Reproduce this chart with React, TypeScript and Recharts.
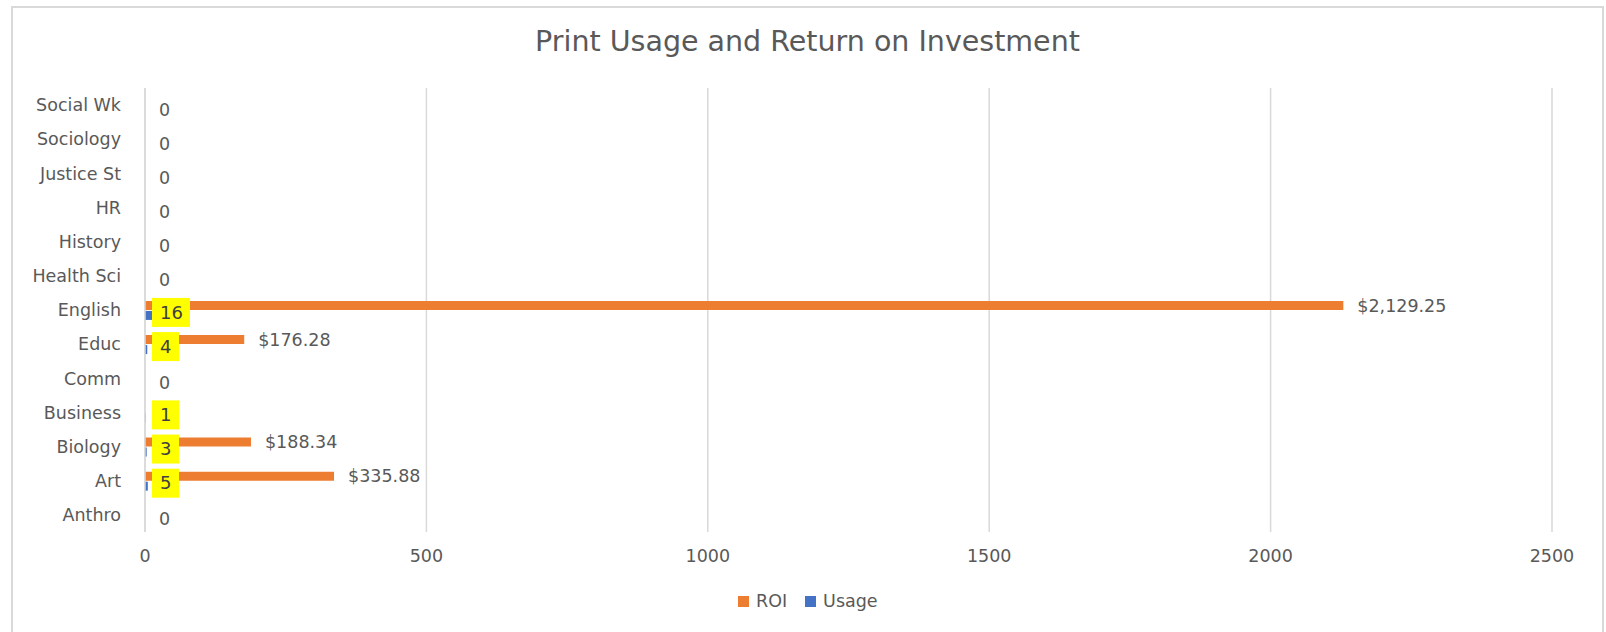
import { Bar, BarChart, CartesianGrid, LabelList, Legend, XAxis, YAxis } from "recharts";

const categories = [
  "Social Wk",
  "Sociology",
  "Justice St",
  "HR",
  "History",
  "Health Sci",
  "English",
  "Educ",
  "Comm",
  "Business",
  "Biology",
  "Art",
  "Anthro",
];
const roiValues = [0, 0, 0, 0, 0, 0, 2129.25, 176.28, 0, 0, 188.34, 335.88, 0];
const usageValues = [0, 0, 0, 0, 0, 0, 16, 4, 0, 1, 3, 5, 0];
const xTicks = [0, 500, 1000, 1500, 2000, 2500];

const data = categories.map((name, i) => ({ name, roi: roiValues[i], usage: usageValues[i] }));

const FONT = "'DejaVu Sans', sans-serif";
const TEXT = "#595959";
const ORANGE = "#ED7D31";
const BLUE = "#4472C4";

const money = (v: number) =>
  "$" + v.toLocaleString("en-US", { minimumFractionDigits: 2, maximumFractionDigits: 2 });

function RoiLabel(props: any) {
  const { x, y, width, height, value } = props;
  if (!value) return null;
  return (
    <text x={x + width + 14} y={y + height / 2} dy="0.35em" fontSize={17.5} fill={TEXT} fontFamily={FONT}>
      {money(value)}
    </text>
  );
}

function UsageLabel(props: any) {
  const { x, y, height, value } = props;
  const cy = y + height / 2 - 3;
  const str = String(value);
  if (!value) {
    return (
      <text x={x + 14} y={cy + 2} dy="0.35em" fontSize={17.5} fill={TEXT} fontFamily={FONT}>
        {str}
      </text>
    );
  }
  const w = str.length * 11 + 16;
  return (
    <g>
      <rect x={x + 7} y={cy - 14.5} width={w} height={29} fill="#FFFF00" />
      <text x={x + 15} y={cy} dy="0.35em" fontSize={18} fill="#404040" fontFamily={FONT}>
        {str}
      </text>
    </g>
  );
}

function UsageShape(props: any) {
  const { x, y, width, height, fill, value } = props;
  const v = Array.isArray(value) ? value[1] - value[0] : value;
  if (!v) return null;
  return <rect x={x} y={y} width={width} height={height} fill={fill} />;
}

function LegendContent() {
  const item = (color: string, label: string) => (
    <span style={{ display: "inline-flex", alignItems: "center", marginRight: 18 }}>
      <span style={{ width: 11, height: 11, background: color, display: "inline-block", marginRight: 7 }} />
      <span>{label}</span>
    </span>
  );
  return (
    <div style={{ paddingLeft: 738, fontFamily: FONT, fontSize: 17.5, color: TEXT, height: 26, display: "flex", alignItems: "center" }}>
      {item(ORANGE, "ROI")}
      {item(BLUE, "Usage")}
    </div>
  );
}

export default function App() {
  return (
    <div style={{ position: "absolute", left: 0, top: 0, width: 1606, height: 632, background: "#fff", overflow: "hidden" }}>
      <div
        style={{
          position: "absolute",
          left: 11,
          top: 6,
          width: 1589,
          height: 640,
          border: "2px solid #d9d9d9",
        }}
      />
      <div
        style={{
          position: "absolute",
          left: 11,
          width: 1593,
          top: 25,
          textAlign: "center",
          fontFamily: FONT,
          fontSize: 28.5,
          color: TEXT,
        }}
      >
        Print Usage and Return on Investment
      </div>
      <BarChart
        width={1606}
        height={632}
        data={data}
        layout="vertical"
        margin={{ top: 88, right: 54, bottom: 18, left: 0 }}
        barSize={9}
        barGap={1}
      >
        <CartesianGrid horizontal={false} stroke="#d9d9d9" strokeWidth={1.5} />
        <XAxis
          type="number"
          domain={[0, 2500]}
          ticks={xTicks}
          axisLine={false}
          tickLine={false}
          tickSize={0}
          tickMargin={18}
          height={56}
          tick={{ fontSize: 17.5, fill: TEXT, fontFamily: FONT }}
        />
        <YAxis
          type="category"
          dataKey="name"
          width={145}
          axisLine={{ stroke: "#d9d9d9", strokeWidth: 1.5 }}
          tickLine={false}
          tickSize={0}
          tickMargin={24}
          tick={{ fontSize: 17.5, fill: TEXT, fontFamily: FONT }}
          interval={0}
        />
        <Legend verticalAlign="bottom" content={<LegendContent />} wrapperStyle={{ height: 26 }} />
        <Bar dataKey="roi" name="ROI" fill={ORANGE} isAnimationActive={false}>
          <LabelList dataKey="roi" content={<RoiLabel />} />
        </Bar>
        <Bar
          dataKey="usage"
          name="Usage"
          fill={BLUE}
          minPointSize={0.5}
          shape={<UsageShape />}
          isAnimationActive={false}
        >
          <LabelList dataKey="usage" content={<UsageLabel />} />
        </Bar>
      </BarChart>
    </div>
  );
}
